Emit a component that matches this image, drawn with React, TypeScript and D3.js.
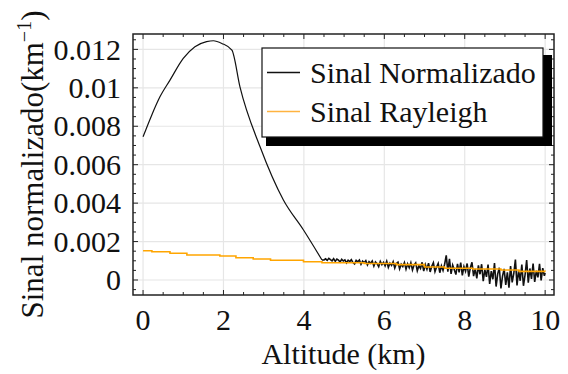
import React from "react";
import * as d3 from "d3";

const W = 568;
const H = 374;

// Sinal Normalizado – smooth part (km, km^-1)
const normAlt = [0, 0.2, 0.42, 0.67, 1.0, 1.29, 1.58, 1.75, 1.96, 2.21, 2.41, 2.91, 3.49, 3.99, 4.45];
const normVal = [0.00745, 0.0085, 0.00953, 0.0104, 0.01153, 0.01214, 0.0124, 0.01245, 0.01231, 0.01196, 0.01005, 0.00693, 0.00416, 0.0026, 0.00104];

// Sinal Normalizado – noisy part
const noisyAlt = [
  4.5, 4.54, 4.58, 4.62, 4.66, 4.7, 4.74, 4.78, 4.82, 4.86,
  4.9, 4.94, 4.98, 5.02, 5.06, 5.1, 5.14, 5.18, 5.22, 5.26,
  5.3, 5.34, 5.38, 5.42, 5.46, 5.5, 5.54, 5.58, 5.62, 5.66,
  5.7, 5.74, 5.78, 5.82, 5.86, 5.9, 5.94, 5.98, 6.02, 6.06,
  6.1, 6.14, 6.18, 6.22, 6.26, 6.3, 6.34, 6.38, 6.42, 6.46,
  6.5, 6.54, 6.58, 6.62, 6.66, 6.7, 6.74, 6.78, 6.82, 6.86,
  6.9, 6.94, 6.98, 7.02, 7.06, 7.1, 7.14, 7.18, 7.22, 7.26,
  7.3, 7.34, 7.38, 7.42, 7.46, 7.5, 7.54, 7.58, 7.62, 7.66,
  7.7, 7.74, 7.78, 7.82, 7.86, 7.9, 7.94, 7.98, 8.02, 8.06,
  8.1, 8.14, 8.18, 8.22, 8.26, 8.3, 8.34, 8.38, 8.42, 8.46,
  8.5, 8.54, 8.58, 8.62, 8.66, 8.7, 8.74, 8.78, 8.82, 8.86,
  8.9, 8.94, 8.98, 9.02, 9.06, 9.1, 9.14, 9.18, 9.22, 9.26,
  9.3, 9.34, 9.38, 9.42, 9.46, 9.5, 9.54, 9.58, 9.62, 9.66,
  9.7, 9.74, 9.78, 9.82, 9.86, 9.9, 9.94, 9.98, 10.0,
];
const noisyVal = [
  0.00104, 0.0011, 0.00102, 0.00113, 0.00106, 0.001, 0.00111, 0.00097, 0.00109, 0.00103,
  0.00094, 0.00108, 0.00099, 0.00105, 0.00089, 0.00103, 0.00096, 0.00106, 0.00091, 0.00084,
  0.00102, 0.00095, 0.00104, 0.00082, 0.00098, 0.0009, 0.00101, 0.00078, 0.00096, 0.00087,
  0.00099, 0.00072, 0.00094, 0.00085, 0.00069, 0.00097, 0.0008, 0.00092, 0.00074, 0.00098,
  0.00066, 0.00088, 0.00076, 0.00095, 0.00062, 0.00086, 0.00093, 0.00058, 0.00082, 0.0007,
  0.00091, 0.00056, 0.00084, 0.00064, 0.0009, 0.00052, 0.00078, 0.00089, 0.00048, 0.00074,
  0.0006, 0.00092, 0.00046, 0.0008, 0.00056, 0.00088, 0.00042, 0.00072, 0.0009, 0.00044,
  0.00068, 0.00086, 0.00038, 0.00074, 0.0005, 0.00082, 0.00128, 0.00044, 0.0011, 0.00032,
  0.00078, 0.00054, 0.00028, 0.00084, 0.0004, 0.0009, 0.00024, 0.0007, 0.00046, 0.00086,
  0.00018, 0.00064, 0.00092, 0.0002, 0.00058, 0.00008, 0.00076, 0.0003, 0.00082, -0.00006,
  0.00054, 0.00016, 0.0008, -0.0002, 0.00046, 0.00004, 0.00088, -0.00034, 0.00032, 0.00064,
  -0.00044, 0.0002, 0.00058, -0.00026, 0.0004, -0.0004, 0.00072, -0.00012, 0.00034, 0.00106,
  -0.00028, 0.0005, -0.00004, 0.0008, -0.0003, 0.00026, 0.00104, -0.00014, 0.0006, 0.00006,
  0.00086, -0.0001, 0.00048, 0.00014, 0.00084, -0.00002, 0.00062, 0.00022, 0.00036,
];

// Sinal Rayleigh (stepped)
const rayAlt = [0, 0.22, 0.67, 1.09, 1.91, 2.31, 2.74, 3.17, 3.99, 4.45, 5.5, 6.3, 7.0, 7.5, 8.2, 8.9, 9.35, 10.0];
const rayVal = [0.00152, 0.00147, 0.00139, 0.0013, 0.00125, 0.00116, 0.00109, 0.00103, 0.00095, 0.0009, 0.00086, 0.0008, 0.00068, 0.00061, 0.00057, 0.00052, 0.00045, 0.00044];

const xMajor = [0, 2, 4, 6, 8, 10];
const xMinor = [0.5, 1, 1.5, 2.5, 3, 3.5, 4.5, 5, 5.5, 6.5, 7, 7.5, 8.5, 9, 9.5];
const yMajor = [0, 0.002, 0.004, 0.006, 0.008, 0.01, 0.012];
const yMajorLabels = ["0", "0.002", "0.004", "0.006", "0.008", "0.01", "0.012"];
const yMinor = [-0.0005, 0.0005, 0.001, 0.0015, 0.0025, 0.003, 0.0035, 0.0045, 0.005, 0.0055, 0.0065, 0.007, 0.0075, 0.0085, 0.009, 0.0095, 0.0105, 0.011, 0.0115, 0.0125];

const legendNames = ["Sinal Normalizado", "Sinal Rayleigh"];
const NORM_COLOR = "#111111";
const RAY_COLOR = "#FFA500";

const L = 133, R = 554, T = 34, B = 295;

export default function App() {
  const x = d3.scaleLinear().domain([-0.25, 10.22]).range([L, R]);
  const y = d3.scaleLinear().domain([-0.00078, 0.0128]).range([B, T]);

  const normPts: [number, number][] = normAlt.map((a, i) => [a, normVal[i]]);
  const noisyPts: [number, number][] = noisyAlt.map((a, i) => [a, noisyVal[i]]);
  const rayPts: [number, number][] = rayAlt.map((a, i) => [a, rayVal[i]]);
  const tail: [number, number][] = [normPts[normPts.length - 1]].concat(noisyPts);

  const line = d3
    .line<[number, number]>()
    .x((d) => x(d[0]))
    .y((d) => y(d[1]));
  const smoothLine = d3
    .line<[number, number]>()
    .x((d) => x(d[0]))
    .y((d) => y(d[1]))
    .curve(d3.curveMonotoneX);
  const stepLine = d3
    .line<[number, number]>()
    .x((d) => x(d[0]))
    .y((d) => y(d[1]))
    .curve(d3.curveStepAfter);

  const font = '"Liberation Serif", "Times New Roman", serif';
  const fs = 30;
  const maj = 5, mnr = 3;
  const ts: React.CSSProperties = { fontFamily: font };

  return (
    <svg width={W} height={H} style={{ position: "absolute", left: 0, top: 0, background: "#fff" }}>
      <defs>
        <clipPath id="plotclip">
          <rect x={L} y={T} width={R - L} height={B - T} />
        </clipPath>
      </defs>
      <rect x={0} y={0} width={W} height={H} fill="#fff" />
      {xMajor.map((v) => (
        <line key={"gx" + v} x1={x(v)} x2={x(v)} y1={T} y2={B} stroke="#e6e6e6" strokeWidth={1.2} />
      ))}
      {yMajor.map((v) => (
        <line key={"gy" + v} x1={L} x2={R} y1={y(v)} y2={y(v)} stroke="#e6e6e6" strokeWidth={1.2} />
      ))}
      <g clipPath="url(#plotclip)">
        <path d={smoothLine(normPts) || ""} fill="none" stroke={NORM_COLOR} strokeWidth={1.2} />
        <path d={line(tail) || ""} fill="none" stroke={NORM_COLOR} strokeWidth={1.6} />
        <path d={stepLine(rayPts) || ""} fill="none" stroke={RAY_COLOR} strokeWidth={1.6} />
      </g>
      <rect x={L} y={T} width={R - L} height={B - T} fill="none" stroke="#222" strokeWidth={1.5} />
      {xMajor.map((v) => (
        <g key={"tx" + v}>
          <line x1={x(v)} x2={x(v)} y1={B} y2={B - maj} stroke="#222" />
          <line x1={x(v)} x2={x(v)} y1={T} y2={T + maj} stroke="#222" />
          <text x={x(v)} y={330} fontSize={fs} textAnchor="middle" fill="#111" style={ts}>
            {String(v)}
          </text>
        </g>
      ))}
      {xMinor.map((v) => (
        <g key={"mx" + v}>
          <line x1={x(v)} x2={x(v)} y1={B} y2={B - mnr} stroke="#222" />
          <line x1={x(v)} x2={x(v)} y1={T} y2={T + mnr} stroke="#222" />
        </g>
      ))}
      {yMajor.map((v, i) => (
        <g key={"ty" + v}>
          <line x1={L} x2={L + maj} y1={y(v)} y2={y(v)} stroke="#222" />
          <line x1={R} x2={R - maj} y1={y(v)} y2={y(v)} stroke="#222" />
          <text x={121} y={y(v)} dy="0.34em" fontSize={fs} textAnchor="end" fill="#111" style={ts}>
            {yMajorLabels[i]}
          </text>
        </g>
      ))}
      {yMinor.map((v) => (
        <g key={"my" + v}>
          <line x1={L} x2={L + mnr} y1={y(v)} y2={y(v)} stroke="#222" />
          <line x1={R} x2={R - mnr} y1={y(v)} y2={y(v)} stroke="#222" />
        </g>
      ))}
      <text x={(L + R) / 2} y={364} fontSize={fs} textAnchor="middle" fill="#111" style={ts}>
        Altitude (km)
      </text>
      <text transform={`translate(43, ${(T + B) / 2}) rotate(-90)`} fontSize={31} textAnchor="middle" fill="#111" style={ts}>
        Sinal normalizado(km
        <tspan fontSize={20} dy={-12}>−1</tspan>
        <tspan dy={12}>)</tspan>
      </text>
      <rect x={266} y={55} width={286} height={91} fill="#000" />
      <rect x={262} y={48} width={281} height={89} fill="#fff" stroke="#111" strokeWidth={1.2} />
      {legendNames.map((name, i) => {
        const ly = i === 0 ? 72.5 : 111.5;
        return (
          <g key={name}>
            <line x1={267} x2={300} y1={ly} y2={ly} stroke={i === 0 ? NORM_COLOR : "#ffb340"} strokeWidth={1.5} />
            <text x={310} y={ly + 10.5} fontSize={fs} fill="#111" style={ts}>
              {name}
            </text>
          </g>
        );
      })}
    </svg>
  );
}
